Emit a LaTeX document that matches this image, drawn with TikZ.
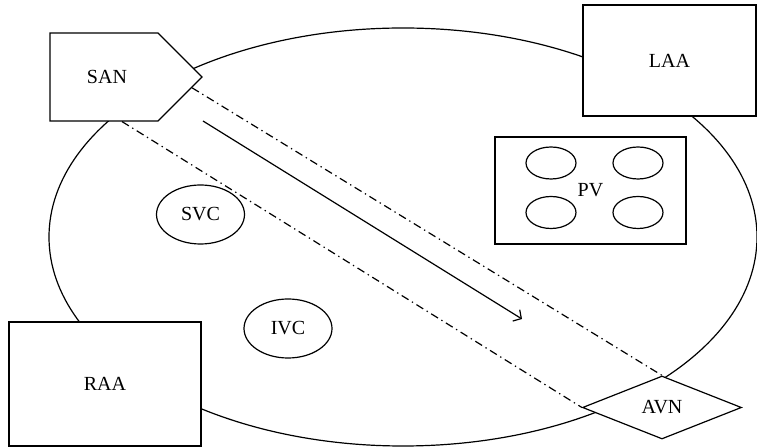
\documentclass[tikz,border=0pt]{standalone}
\usepackage{fontspec}
\setmainfont{Liberation Serif}
\usetikzlibrary{shapes.geometric,shapes.symbols,arrows.meta}

\begin{document}
\begin{tikzpicture}[x=0.75pt,y=-0.75pt,line width=0.9pt,
        font=\fontsize{15}{18}\selectfont,
        chamber/.style={draw,fill=white,rectangle,inner sep=0pt},
        vessel/.style={draw,fill=white,ellipse,inner sep=0pt,minimum width=66pt,minimum height=44.25pt},
        vein/.style={draw,ellipse,inner sep=0pt,minimum width=37.5pt,minimum height=24pt},
        path/.style={dash pattern=on 6pt off 3pt on 1pt off 3pt}]
                \useasboundingbox (0,0) rectangle (757,448);

                \node (atrium) at (403,237) [draw,ellipse,minimum width=531pt,minimum height=313.5pt] {};

                \node (san) at (104,77) [signal,signal to=east,draw,fill=white,minimum width=114pt,minimum height=66pt] {\hspace*{4.5pt}SAN};
                \node (laa) at (669.5,60.5) [chamber,minimum width=129.75pt,minimum height=83.25pt] {LAA};
                \node (raa) at (105,384) [chamber,minimum width=144pt,minimum height=93pt] {RAA};
                \node (avn) at (662,407.5) [diamond,draw,fill=white,aspect=2.5,inner sep=0pt,minimum width=119.25pt,minimum height=47.25pt] {AVN};

                \node (pv) at (590.5,190.5) [chamber,minimum width=143.25pt,minimum height=80.25pt] {PV};
                \node (pv1) at (551,163) [vein] {};
                \node (pv2) at (638,163) [vein] {};
                \node (pv3) at (551,212.5) [vein] {};
                \node (pv4) at (638,212.5) [vein] {};

                \node (svc) at (200.5,214.5) [vessel] {SVC};
                \node (ivc) at (288,328.5) [vessel] {IVC};

                \draw[path] (san.-7) -- (avn.north);
                \draw[path] (san.-68) -- (avn.west);

                \coordinate (flowstart) at (203,121);
                \coordinate (flowend) at (522,319);
                \draw[-{Straight Barb[length=4.5pt,width=10pt]}] (flowstart) -- (flowend);
            \end{tikzpicture}
\end{document}
